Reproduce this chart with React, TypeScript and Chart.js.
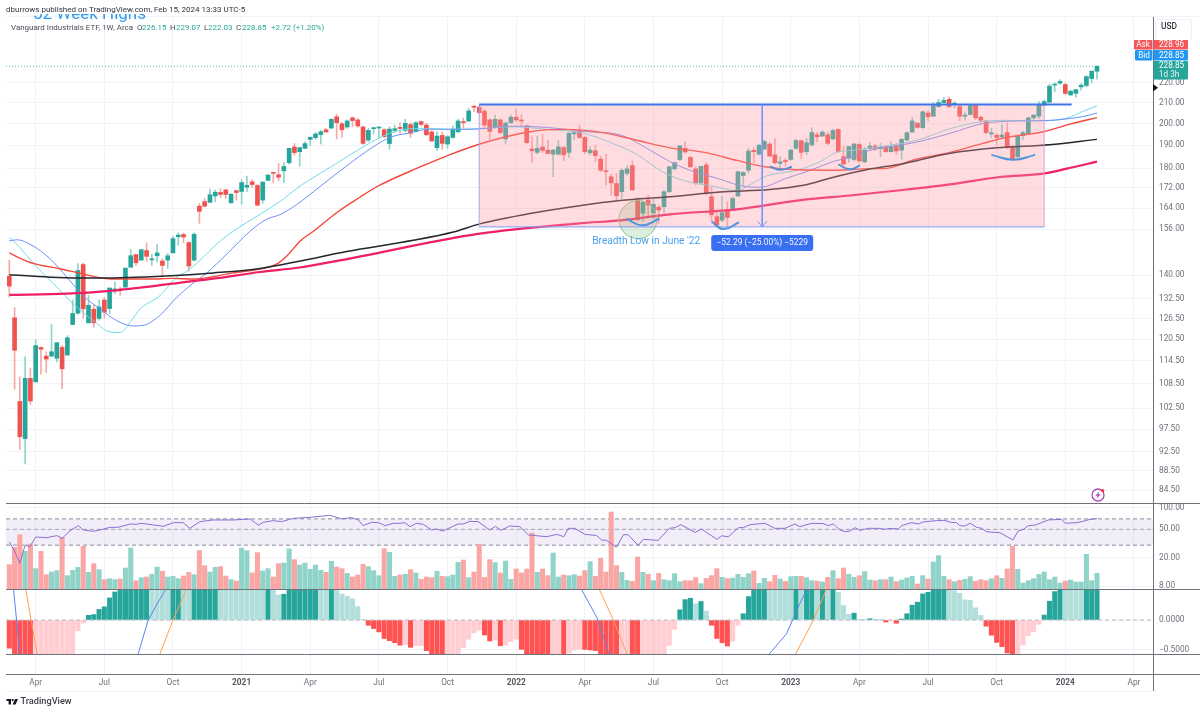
import React, { useEffect, useRef } from "react";
import { Chart, registerables } from "chart.js";
Chart.register(...registerables);

const tickIdx = [5, 18, 31, 44, 57, 70, 83, 96, 109, 122, 135, 148, 161, 174, 187, 200, 213];
const tickLabels = ["Apr", "Jul", "Oct", "2021", "Apr", "Jul", "Oct", "2022", "Apr", "Jul", "Oct", "2023", "Apr", "Jul", "Oct", "2024", "Apr"];
const priceTicks = [84.5, 88.5, 92.5, 97.5, 102.5, 108.5, 114.5, 120.5, 126.5, 132.5, 140, 156, 164, 172, 180, 190, 200, 210, 220];
const rsiTicks = [8, 20, 50, 100];
const macdTicks = [-0.5, 0];

const opens = [139.7,126.7,104.1,95.4,109.9,109.0,118.2,115.8,115.8,115.2,
118.2,116.1,124.7,128.1,143.6,125.2,129.3,126.5,132.1,129.5,
135.2,135.6,136.2,142.7,147.0,145.1,148.4,145.2,146.6,144.8,
145.1,147.6,153.3,154.1,151.2,145.1,164.7,166.5,166.2,168.7,
170.1,171.1,166.0,170.8,170.5,172.2,174.4,172.9,167.1,175.0,
178.3,177.3,179.0,182.4,189.3,187.2,188.7,192.7,193.5,194.9,
197.1,197.9,203.2,199.9,198.4,202.7,201.7,198.4,192.4,197.6,
197.9,197.1,190.8,196.8,198.2,196.8,199.5,196.3,200.9,199.3,
196.1,189.0,194.5,190.6,193.6,196.1,200.9,201.2,208.1,207.8,
205.9,201.7,198.2,201.7,192.9,200.4,203.0,201.7,199.0,188.4,
186.9,189.3,187.9,186.1,186.1,189.0,186.9,195.2,196.4,193.6,
186.7,187.6,184.0,178.9,176.5,173.7,170.4,177.9,181.2,167.1,
162.0,167.1,162.2,164.3,164.5,170.4,179.8,183.8,188.7,184.7,
179.8,174.0,181.5,168.4,160.7,159.4,163.4,163.2,168.7,177.0,
179.2,187.8,186.1,188.4,190.6,185.8,182.1,183.4,183.8,188.7,
192.1,187.2,190.2,194.8,194.2,194.8,192.9,197.3,185.0,184.3,
183.8,190.4,182.8,188.5,189.7,188.6,189.4,187.2,189.7,187.9,
192.4,196.1,200.2,198.1,205.0,203.5,208.1,210.1,211.7,209.3,
208.1,203.5,204.3,208.9,203.0,201.2,195.2,194.6,193.8,195.8,
189.0,185.0,194.4,195.4,202.7,203.5,208.9,210.3,218.9,219.9,
219.2,213.9,214.7,218.0,218.7,222.3,226.15];
const highs = [145.1,129.8,110.3,115.6,112.6,120.4,118.3,117.0,124.8,119.6,
118.8,121.5,132.1,143.9,144.1,133.6,130.5,132.1,132.9,135.9,
137.9,136.2,142.4,148.8,147.1,148.8,151.1,147.1,150.5,145.6,
147.4,153.5,154.7,154.5,151.5,154.7,165.8,167.7,171.5,171.1,
171.6,171.5,169.7,171.1,175.3,176.8,175.3,173.3,174.4,177.5,
178.3,182.1,182.5,188.7,190.9,189.1,191.6,193.9,195.8,196.8,
197.7,202.3,204.3,200.6,201.7,203.2,202.4,198.9,197.7,198.2,
198.5,197.6,198.5,199.3,200.4,202.0,200.4,200.9,201.2,200.1,
196.8,196.1,196.1,194.4,199.0,202.1,202.6,207.2,208.9,208.6,
206.8,202.4,204.0,202.1,200.9,204.0,207.0,204.3,199.3,193.9,
194.2,195.0,192.4,188.2,192.1,189.5,195.8,196.5,199.3,193.9,
189.5,190.2,185.3,186.1,177.6,177.9,179.9,181.3,183.2,168.1,
166.7,169.1,167.4,165.1,171.1,180.9,182.8,189.8,191.6,185.3,
180.7,180.9,182.4,172.3,162.6,168.7,166.4,168.4,178.9,178.6,
188.7,189.1,190.4,192.4,191.2,193.1,185.0,184.3,188.2,192.7,
192.4,193.1,198.0,195.9,196.8,196.1,197.4,197.4,189.5,189.5,
190.9,190.9,189.1,191.2,190.6,190.9,190.1,191.6,190.9,193.1,
196.1,203.0,200.5,206.1,206.1,210.1,211.7,212.7,213.0,210.6,
208.9,205.6,208.9,208.9,203.5,201.6,197.7,195.2,199.7,200.2,
190.1,194.7,196.4,203.0,204.3,210.6,211.4,219.4,220.0,221.8,
220.0,216.3,216.8,219.7,223.8,226.3,229.07];
const lows = [133.1,107.1,93.0,89.9,103.4,109.0,111.0,111.4,115.6,114.2,
107.3,116.0,124.7,127.8,126.6,125.2,124.0,126.0,126.6,128.0,
134.1,133.6,136.0,142.7,143.3,145.1,144.7,143.3,144.5,139.7,
142.2,147.6,150.3,151.1,141.4,144.8,158.2,164.5,166.2,166.4,
168.1,167.7,166.0,167.1,165.4,170.4,172.1,164.9,165.8,174.8,
174.0,174.8,174.1,181.8,185.7,180.9,188.4,189.9,192.7,190.6,
195.9,197.6,192.9,193.6,197.7,198.5,198.2,190.4,191.6,195.2,
193.2,193.6,188.2,195.8,195.5,196.1,193.6,196.1,198.9,194.5,
191.6,187.6,188.2,188.7,193.1,195.9,198.0,200.9,205.7,204.5,
198.2,192.4,197.7,195.2,190.6,200.1,200.9,198.9,190.9,182.4,
186.2,186.9,186.4,176.5,185.8,183.2,184.6,192.4,193.1,186.4,
185.8,182.9,178.7,173.0,169.1,167.1,167.7,177.2,170.8,159.1,
158.8,160.7,160.0,158.2,162.0,170.0,179.2,183.2,186.4,180.4,
173.0,173.7,169.1,159.1,157.1,158.8,156.9,163.0,168.4,173.0,
177.9,182.4,185.8,187.9,185.0,181.8,180.4,180.9,183.5,188.2,
184.3,185.8,189.5,191.6,193.9,190.1,192.4,186.8,181.4,182.7,
183.2,182.4,182.4,188.2,187.6,185.0,186.9,187.0,186.0,184.0,
192.1,195.7,197.9,197.7,201.3,203.2,207.8,209.8,207.8,207.3,
201.3,201.6,204.0,201.9,199.8,195.2,193.6,190.1,193.5,188.6,
183.5,184.7,192.4,195.2,201.9,202.3,208.6,210.1,215.5,219.4,
214.2,213.7,212.7,216.3,218.0,220.0,222.03];
const closes = [136.5,117.4,95.8,109.9,104.2,118.7,117.7,115.0,117.0,119.5,
112.4,120.9,128.0,141.6,129.4,130.5,125.2,130.0,128.4,135.9,
135.6,135.2,142.4,146.6,144.2,148.7,146.4,145.4,147.6,143.3,
146.6,152.6,153.9,153.2,143.1,154.2,162.7,164.7,169.2,170.2,
169.3,169.3,169.4,170.1,174.1,173.0,173.3,165.1,174.3,177.2,
177.9,176.3,180.8,188.7,186.8,189.0,190.8,193.6,195.2,196.2,
196.1,202.0,200.4,197.1,201.2,201.4,198.9,190.9,196.8,198.0,
198.2,193.9,197.4,197.6,197.7,200.1,195.5,200.4,199.6,194.8,
192.0,194.2,190.9,193.9,197.4,201.2,200.4,206.0,207.8,205.2,
199.3,196.4,202.0,195.8,200.2,203.0,201.7,201.2,191.2,187.6,
188.7,187.8,186.4,187.9,189.3,185.8,195.5,196.0,193.6,187.2,
187.9,185.5,179.2,178.6,174.0,168.8,179.2,179.8,171.1,159.6,
166.2,165.1,165.4,163.2,170.4,180.7,182.4,189.8,187.1,180.7,
174.0,180.9,169.7,161.4,157.5,162.2,160.4,167.7,178.6,178.3,
187.5,187.2,190.1,191.8,185.3,182.4,182.8,182.9,187.9,192.2,
186.9,191.2,195.8,193.9,196.0,190.9,196.8,187.2,181.8,189.5,
190.6,183.2,187.9,189.7,188.6,189.1,187.2,189.4,187.5,192.7,
195.7,201.2,198.2,205.6,203.2,208.6,210.1,211.2,208.1,209.8,
203.5,204.0,208.6,202.7,201.6,195.8,195.7,193.6,194.7,189.0,
183.8,194.4,195.8,202.7,204.0,209.3,210.6,218.4,219.4,220.8,
214.7,215.8,216.6,218.9,223.3,226.2,228.85];

const volumes = [73,125,163,113,135,61,113,43,51,55,155,40,56,65,128,50,76,58,28,31,
28,30,63,123,25,34,36,44,66,53,36,38,31,39,50,43,115,70,51,65,
67,39,28,24,123,115,48,109,54,61,36,76,78,120,88,72,78,59,72,56,
50,83,66,61,47,36,42,74,67,55,40,121,110,38,42,
44,58,48,29,36,34,53,38,37,42,80,87,34,51,134,35,88,79,48,84,
29,60,48,60,168,50,60,40,108,36,42,40,43,39,55,82,38,92,51,231,
70,50,26,23,96,50,44,25,47,28,25,46,22,25,25,34,16,32,40,61,
35,31,33,44,35,46,54,17,32,22,41,30,23,37,38,
38,34,25,24,21,35,55,31,63,44,35,40,52,27,25,28,28,36,22,27,
33,38,15,40,30,81,100,38,28,22,26,29,37,23,28,25,31,40,32,60,
128,59,18,25,31,44,51,28,36,18,24,27,21,21,104,25,47];

const macdHist = [-.47,-.56,-.62,-.68,-.72,-.7,-.68,-.66,-.64,-.62,-.6,-.58,-.56,-.18,-.05,
.077,.09,.176,.22,.368,.467,.52,.56,.6,.64,.68,.72,.7,.68,.66,.64,.66,.68,.66,.64,
.66,.68,.7,.72,.74,.73,.72,.71,.7,.69,.68,.67,.66,.65,.66,.6,.42,.43,.6,.62,.64,.66,.68,.7,
.68,.66,.68,.52,.434,.396,.352,.225,.005,-.088,-.143,-.198,-.308,-.346,-.379,
-.42,-.41,-.456,-.43,-.425,-.51,-.6,-.65,-.7,-.68,-.66,-.58,-.46,-.32,-.214,-.17,-.25,-.35,-.335,-.43,-.418,-.36,-.32,-.49,
-.6,-.64,-.68,-.72,-.76,-.74,-.72,-.78,-.55,-.5,-.485,-.49,-.5,-.51,-.56,-.6,-.65,-.7,-.68,-.62,-.66,-.7,-.68,-.64,-.62,-.6,-.57,-.423,-.154,
.17,.34,.363,.27,.308,.148,-.088,-.308,-.379,-.434,-.352,-.088,.104,.39,.55,.6,.65,.63,.61,.59,.57,.55,.58,
.56,.6,.62,.6,.62,.6,.62,.462,.242,.093,.115,.005,.004,.022,.003,.002,-.033,-.016,-.055,.016,.104,.247,.297,.434,.462,.52,.56,.6,.58,
.49,.445,.335,.33,.203,.077,-.104,-.253,-.374,-.445,-.55,-.6,-.58,-.418,-.264,-.198,-.071,.082,.313,.473,.6,.58,.56,.54,.52,.55,.58,.62];

const rsiIdx = [0,.9,2,3,3.9,5,7.1,9,10,11.5,13.1,14,15.9,17.2,19.1,20.6,22.9,24.1,25,27.3,29.2,31.1,32.9,34.2,36.1,38.6,42.4,45.6,47.2,48.1,50,51.6,53.8,57,60.7,63,64.8,66.1,67,68.6,69.9,71.2,72.7,
74,74.9,75.9,77.1,78.4,80,80.9,82.1,83.5,85,86,87.2,88.8,91,92.1,93.1,94.8,96.7,98.3,101.8,103.7,105,105.9,107.1,109,111.2,112.2,113.1,115,116.3,117.2,119.1,120.1,122.9,125,126.1,127.2,129.9,131.1,134,134.9,136.2,138.1,139,140.3,143.1,145,146.9,148.8,
149.7,152,154.2,155.1,156.1,157.3,158.3,159.2,160.2,161.1,162.7,164.6,165.9,166.8,168.4,169,170.9,172.2,173.1,175.6,177.2,178.2,179.4,180,181,182,183.2,184.2,185,187.6,190.1,191.1,192,193,194.3,195.2,196.8,199.3,200,202.2,203.4,204.7,206];
const rsiVals = [33.5,25.7,16.7,30.2,28.6,39,38.2,40.8,37.3,47.8,56.3,49,46.9,49,53.3,53.3,59.4,58.8,60.7,57.5,55.1,62,62,51.6,64,67.6,67.6,69.8,56.9,62.7,66.1,64,71.3,73.6,78.6,69.8,73,67.6,56.3,62.7,62,56.3,60.7,
60.7,62,54.5,60.7,58.8,49,50.5,47.4,52.8,59.4,59.4,64.7,64,49,55,48.4,55.7,54.5,41.7,39.4,42.5,39.4,51.6,51.6,42.5,41,35.4,35,28,42,42,29.8,36.2,35,51.6,52.8,58.1,45.3,50.5,36.2,40.5,39.4,52.8,52.8,58.1,60.7,51.6,51.6,59.4,
54.5,60.7,60.1,56.3,59.4,49,46.3,47.4,52.8,48.4,51.6,51.6,50,51.6,50.5,56.3,62,59.4,63.4,66.1,66.8,62.7,62,56.3,55.7,60.7,53.3,51.6,46.3,44.8,35.4,47.8,49.5,56.3,57.5,60.7,67.6,69,60.7,62,64.7,69,70.4];

const cyanIdx = [0,.8,3.3,5.8,9,12.1,15.9,19,21,22.9,24.8,28.5,31.7,33.6,36.1,39.3,42.4,47.5,51.9,54.4,58.8,62.6,67,72.1,76.5,79,84.1,89.1,95.4,101.8,108.7,114.4,118.8,123.9,128.3,133.3,137.8,140.9,143.4,149.1,153.6,156.7,159.8,165.5,171.9,178.2,184.4,188.9,194.6,200.3,203.5,206];
const cyanVals = [152.9,151.8,146.7,141.7,136.2,130.9,125.9,122.6,122.4,125.4,129.4,133.4,139.4,141.3,145,150.7,155.3,161.6,167.5,171.7,177.8,183,189.3,195.5,197.6,197.6,197.3,197.6,198.5,197.3,195.5,190.8,186.1,178.3,174.6,172.6,170.9,174,176.8,179.2,182.9,187,187.8,189.6,192.3,197.6,201,201.5,201.2,202.6,206,208.5];
const blueIdx = [0,1.4,4.5,7.7,10.9,14,17.2,20.3,23.5,25.4,28.5,31.7,34.2,37.4,41.2,45.6,48.7,51.3,54.4,58.8,63.9,68.9,72.1,75.9,79.7,84.7,89.1,95.4,101.8,109.4,115.7,121.4,125.1,128.9,134,139,142.2,147.2,151.7,156,159.8,163,165.5,171.9,178.2,184.4,190.8,197,203.3,206];
const blueVals = [151.8,152.2,150,145.6,139.4,133.4,129.4,125.9,124.3,124.5,127.4,132.9,136.6,140.8,147.2,155.3,159.7,161.5,165.3,172.4,181.1,189.3,193.6,195.7,197.4,197.3,197.5,198.8,198.2,196.2,194.7,187.8,182.9,179.2,175.9,172.6,172.2,175.9,179.2,182.9,185.1,187.8,188.9,191.5,195.5,200,201.2,201.5,203.3,205];
const redIdx = [0,1.4,4.5,9.6,12.8,16.6,19.1,26.6,31,34.8,42.4,48.8,50.7,52.6,55.1,57.6,62,66.4,69.6,77.8,82.8,89.1,98.6,104.9,112.4,118.8,125.1,131.4,137.8,142.8,149.1,156.7,163,165.5,171.9,178.2,184.4,188.9,195.8,200.9,206];
const redVals = [147.6,146.3,144,142.2,140.9,139.4,138.8,138.8,139,138.8,140.8,142.6,143.8,146.6,151.8,155.3,162.2,168.2,172.4,180.6,185.3,190.6,196.2,197.3,195.8,192.3,188.9,187,183.4,180.8,179.4,179.2,179.9,179.9,184,186.9,190.9,193.6,196.2,199.7,202.8];
const blackIdx = [0,7.7,17.2,29.8,38.6,47.5,55.1,63.9,76.5,84.1,89.1,98.6,108,115.7,125.1,134.6,144,150.4,155.4,163,168.7,178.2,187,197,206];
const blackVals = [140.2,139.4,139.1,139.8,140.8,142.3,144.8,148.1,152,155,158,161.9,164.9,166.9,168.4,170.3,171.3,173,175.9,179.7,181.8,186.5,188.9,190.3,192.7];
const crimsonIdx = [0,10.9,19,31,38.6,47.5,55,62.6,89.1,108,115.7,125.1,137.8,150.3,159.2,168.7,178.2,187.6,195.8,200.3,206];
const crimsonVals = [133.7,134.1,135,137.3,138.9,141.1,142.6,145,154.4,158.2,159.3,161.6,163.5,167.2,168.9,171,173.4,176.4,177.8,179.9,182.9];

const macdIdx = [0,.8,2,4,20,24.4,26.3,28.2,29.7,34,105,108.3,110.3,111.4,113.6,118,140,143.9,147.2,149.7,151.1,156,206];
const macdVals = [1.2,.52,-.57,-1.5,-1.5,-.57,0,.3,.52,1.5,1.5,.52,.2,.02,-.57,-1.5,-1.5,-.57,-.23,.27,.52,1.5,1.5];
const signalIdx = [0,3.1,4.1,5.3,10,24,28.5,31.1,33.6,38,105,111.7,114.4,117,122,140,148.9,152.3,154.8,160,206];
const signalVals = [1.5,.52,.02,-.57,-1.5,-1.5,-.57,.02,.52,1.5,1.5,.52,0,-.57,-1.5,-1.5,-.57,0,.52,1.5,1.5];

const rangeStart = 89, rangeEnd = 196, rangeHigh = 209.16, rangeLow = 156.87, resistanceEnd = 201.2;
const arrowAt = 142.6;
const smiles = [
  [[116.9, 119.8, 123.1], [159.9, 157.5, 159.9]],
  [[133, 135.3, 138.2], [158.8, 156.1, 158.6]],
  [[144.1, 146.1, 148.2], [180.8, 179.4, 180.7]],
  [[157, 159.2, 161.1], [181.7, 179.6, 181.3]],
  [[186, 190.2, 194.3], [185.8, 183.7, 185.8]],
];

const BANDS = { yPrice: [17, 503], yRsi: [503, 589], yVol: [503, 589], yMacd: [589, 654] };
const FONT = "Roboto, sans-serif";
const TEAL = "#26a69a", RED = "#ef5350";
const xs = opens.map((_, i) => i);
const up = (i) => closes[i] >= opens[i];
const histColor = (i) => {
  const v = macdHist[i], p = i ? macdHist[i - 1] : 0;
  return v >= 0 ? (v > p ? "#26a69a" : "#b2dfdb") : v < p ? "#ff5252" : "#ffcdd2";
};

const line = (x, y, axis, color, width, order, extra = {}) => ({
  type: "line", data: x.map((v, i) => ({ x: v, y: y[i] })), xAxisID: "x", yAxisID: axis,
  borderColor: color, borderWidth: width, pointRadius: 0, fill: false, tension: 0, order, clip: 0, ...extra,
});
const bar = (data, axis, colors, thick, order, extra = {}) => ({
  type: "bar", data, xAxisID: "x", yAxisID: axis, backgroundColor: colors, borderWidth: 0, grouped: false,
  maxBarThickness: thick, barPercentage: 1, categoryPercentage: 1, order, clip: 0, ...extra,
});
const X0 = -0.625, X1 = 216.61;
const smooth = { cubicInterpolationMode: "monotone" };

const datasets = [
  line([X0, X1], [70, 70], "yRsi", "#8a8d96", 1, 70, { borderDash: [4, 3], fill: "+1", backgroundColor: "rgba(126,87,194,0.1)" }),
  line([X0, X1], [30, 30], "yRsi", "#8a8d96", 1, 70, { borderDash: [4, 3] }),
  line([X0, X1], [50, 50], "yRsi", "rgba(138,141,150,0.7)", 1, 69, { borderDash: [4, 3] }),
  bar(xs.map((x) => ({ x, y: volumes[x] })), "yVol", xs.map((i) => (up(i) ? "#8fd3c9" : "#f9a6a4")), 4.4, 60),
  line(rsiIdx, rsiVals, "yRsi", "#8e6fd0", 1, 58),
  bar(xs.map((x) => ({ x, y: macdHist[x] })), "yMacd", xs.map(histColor), 4.4, 55),
  line([X0, X1], [0, 0], "yMacd", "#b8bac0", 1, 54, { borderDash: [4, 3] }),
  line(macdIdx, macdVals, "yMacd", "#5b84f0", 1, 53),
  line(signalIdx, signalVals, "yMacd", "#ff9f50", 1, 52),
  bar(xs.map((x) => ({ x, y: [lows[x], highs[x]] })), "yPrice", xs.map((i) => (up(i) ? "#8fd3c9" : "#f7a9a7")), 1, 40),
  bar(xs.map((x) => ({ x, y: [Math.min(opens[x], closes[x]), Math.max(opens[x], closes[x])] })), "yPrice", xs.map((i) => (up(i) ? TEAL : RED)), 4, 39, { minBarLength: 1 }),
  line(cyanIdx, cyanVals, "yPrice", "#6fdde8", 1, 30, smooth),
  line(blueIdx, blueVals, "yPrice", "#6f8ffb", 1, 29, smooth),
  line(redIdx, redVals, "yPrice", "#f4473a", 1.4, 28, smooth),
  line(blackIdx, blackVals, "yPrice", "#24262c", 1.5, 27, smooth),
  line(crimsonIdx, crimsonVals, "yPrice", "#ef1f63", 2.2, 26, smooth),
  line([X0, 206], [228.85, 228.85], "yPrice", "rgba(38,166,154,0.75)", 1, 25, { borderDash: [1, 2] }),
  line([119.07], [159.6], "yPrice", "#8dc68d", 1, 22, { showLine: false, pointRadius: 19, pointBackgroundColor: "rgba(76,175,80,0.2)", pointBorderColor: "#8dc68d", pointBorderWidth: 1 }),
  line([rangeStart, rangeEnd], [rangeHigh, rangeHigh], "yPrice", "rgba(0,0,0,0)", 0, 12, { fill: "+1", backgroundColor: "rgba(255,155,163,0.35)" }),
  line([rangeStart, rangeEnd], [rangeLow, rangeLow], "yPrice", "#7d9cff", 1, 11),
  line([rangeStart, rangeStart], [rangeLow, rangeHigh], "yPrice", "#b59fde", 1, 10),
  line([rangeEnd, rangeEnd], [rangeLow, rangeHigh], "yPrice", "#d8a0dc", 1, 10),
  line([rangeStart, resistanceEnd], [rangeHigh, rangeHigh], "yPrice", "#3f74e8", 2, 9),
  line([arrowAt, arrowAt], [rangeHigh, rangeLow], "yPrice", "#6f96f5", 1, 8),
  line([arrowAt - 0.9, arrowAt, arrowAt + 0.9], [159.0, rangeLow, 159.0], "yPrice", "#6f96f5", 1, 8),
  ...smiles.map(([x, y]) => line(x, y, "yPrice", "#4f94dc", 2, 7, { tension: 0.5 })),
];

const txt = (ctx, s, x, y, font, color, align = "left") => {
  ctx.font = font; ctx.fillStyle = color; ctx.textAlign = align; ctx.textBaseline = "middle"; ctx.fillText(s, x, y);
};
const box = (ctx, x, y, w, h, color, r = 1) => {
  ctx.fillStyle = color; ctx.beginPath(); ctx.roundRect(x, y, w, h, r); ctx.fill();
};

const panes = {
  id: "panes",
  beforeDraw(c) {
    const ctx = c.ctx;
    ctx.save(); ctx.fillStyle = "#fff"; ctx.fillRect(0, 0, c.width, c.height); ctx.restore();
  },
  afterLayout(c) {
    Object.keys(BANDS).forEach((id) => {
      const s = c.scales[id];
      s.top = BANDS[id][0]; s.bottom = BANDS[id][1]; s.height = s.bottom - s.top; s.configure();
    });
  },
  afterDraw(c) {
    const ctx = c.ctx, xS = c.scales.x, yS = c.scales.yPrice;
    ctx.save();
    ctx.strokeStyle = "#6f7278"; ctx.lineWidth = 1;
    [503.5, 589.5, 654.5, 674.5].forEach((y) => { ctx.beginPath(); ctx.moveTo(6, y); ctx.lineTo(1200, y); ctx.stroke(); });
    ctx.beginPath(); ctx.moveTo(1153.5, 17); ctx.lineTo(1153.5, 691); ctx.stroke();
    ctx.strokeStyle = "#f0f3fa"; ctx.beginPath(); ctx.moveTo(6, 691.5); ctx.lineTo(1153, 691.5); ctx.stroke();
    ctx.beginPath(); ctx.moveTo(6, 16.5); ctx.lineTo(1200, 16.5); ctx.stroke();
    txt(ctx, "dburrows published on TradingView.com, Feb 15, 2024 13:33 UTC-5", 6, 10, `8px ${FONT}`, "#30333c");
    ctx.save(); ctx.beginPath(); ctx.rect(0, 14, 400, 12); ctx.clip();
    txt(ctx, "52 Week Highs", 33, 14.5, `17px ${FONT}`, "#2f9bf0");
    ctx.restore();
    const leg = `7.95px ${FONT}`;
    txt(ctx, "Vanguard Industrials ETF, 1W, Arca", 11, 28, leg, "#4a4d58");
    [["O", 137, "226.15", 142], ["H", 170, "229.07", 176], ["L", 204, "222.03", 208], ["C", 236, "228.85", 242]].forEach(([a, ax, b, bx]) => {
      txt(ctx, a, ax, 28, leg, "#4a4d58"); txt(ctx, b, bx, 28, leg, TEAL);
    });
    txt(ctx, "+2.72 (+1.20%)", 271, 28, leg, TEAL);
    ctx.strokeStyle = "#eceef3"; ctx.beginPath(); ctx.roundRect(1155.5, 19.5, 36, 21, 3); ctx.fillStyle = "#fff"; ctx.fill(); ctx.stroke();
    txt(ctx, "USD", 1161, 27, `500 8.4px ${FONT}`, "#333640");
    const lab = `8.2px ${FONT}`;
    box(ctx, 1134, 40, 18.5, 9.5, "#f4565a"); txt(ctx, "Ask", 1143, 45, lab, "#fff", "center");
    box(ctx, 1153.5, 40, 34.5, 9.5, "#f4565a"); txt(ctx, "228.96", 1159, 45, lab, "#fff");
    box(ctx, 1135, 50, 17.5, 10.5, "#2196f3"); txt(ctx, "Bid", 1144, 55.5, lab, "#fff", "center");
    box(ctx, 1153.5, 50, 34.5, 10.5, "#2196f3"); txt(ctx, "228.85", 1159, 55.5, lab, "#fff");
    box(ctx, 1153.5, 61, 34.5, 18.5, "#26a69a"); txt(ctx, "228.85", 1159, 66, lab, "#fff"); txt(ctx, "1d 3h", 1159, 74.5, lab, "#e6f5f3");
    ctx.fillStyle = "#111"; ctx.beginPath(); ctx.moveTo(1153, 84); ctx.lineTo(1158, 87.7); ctx.lineTo(1153, 91.5); ctx.closePath(); ctx.fill();
    txt(ctx, "Breadth Low in June '22", xS.getPixelForValue(110.4), yS.getPixelForValue(151.5), `10.2px ${FONT}`, "#4a9fee");
    const mx = xS.getPixelForValue(arrowAt), my = yS.getPixelForValue(151.1);
    box(ctx, mx - 51, my - 8, 102, 16, "#3a6ff2", 3);
    txt(ctx, "\u221252.29 (\u221225.00%) \u22125229", mx, my, `8.4px ${FONT}`, "#f2f5ff", "center");
    const bx = xS.getPixelForValue(206.2), by = 495;
    ctx.strokeStyle = "#ab47bc"; ctx.lineWidth = 1.3; ctx.beginPath(); ctx.arc(bx, by, 6, 0, Math.PI * 2); ctx.stroke();
    ctx.fillStyle = "#ab47bc"; ctx.beginPath();
    ctx.moveTo(bx + 1.6, by - 4); ctx.lineTo(bx - 2.6, by + 0.8); ctx.lineTo(bx - 0.2, by + 0.8); ctx.lineTo(bx - 1.6, by + 4);
    ctx.lineTo(bx + 2.6, by - 0.8); ctx.lineTo(bx + 0.2, by - 0.8); ctx.closePath(); ctx.fill();
    ctx.fillStyle = "#f23645"; ctx.beginPath(); ctx.arc(bx + 4.6, by - 4.4, 1.7, 0, Math.PI * 2); ctx.fill();
    ctx.fillStyle = "#131722"; ctx.beginPath();
    ctx.moveTo(6.5, 699); ctx.lineTo(11, 699); ctx.lineTo(11, 704.5); ctx.lineTo(8.6, 704.5); ctx.lineTo(8.6, 701); ctx.lineTo(6.5, 701); ctx.closePath(); ctx.fill();
    ctx.beginPath(); ctx.arc(12.6, 700.1, 1.1, 0, Math.PI * 2); ctx.fill();
    ctx.beginPath(); ctx.moveTo(15, 699); ctx.lineTo(18, 699); ctx.lineTo(15.6, 704.5); ctx.lineTo(12.6, 704.5); ctx.closePath(); ctx.fill();
    txt(ctx, "TradingView", 20.5, 702, `500 9.2px ${FONT}`, "#3b3e46");
    ctx.restore();
  },
};

const yCommon = (ticks, fmt) => ({
  position: "right", stack: "right",
  afterFit: (s) => { s.width = 47; },
  afterBuildTicks: (s) => { s.ticks = ticks.map((value) => ({ value })); },
  border: { display: false },
  grid: { color: "#f0f3fa", drawTicks: false },
  ticks: { autoSkip: false, padding: 6, color: "#6f727c", font: { size: 8.3, family: FONT }, callback: fmt },
});

export default function App() {
  const ref = useRef(null);
  useEffect(() => {
    document.body.style.margin = "0";
    const chart = new Chart(ref.current, {
      type: "bar",
      data: { datasets },
      plugins: [panes],
      options: {
        animation: false, responsive: false, events: [],
        layout: { autoPadding: false, padding: { left: 6, top: 17, right: 0, bottom: 22 } },
        plugins: { legend: { display: false }, tooltip: { enabled: false }, filler: { drawTime: "beforeDatasetDraw" } },
        scales: {
          x: {
            type: "linear", min: X0, max: X1, offset: false,
            afterFit: (s) => { s.height = 17; },
            afterBuildTicks: (s) => { s.ticks = tickIdx.map((value) => ({ value })); },
            border: { display: false },
            grid: { color: "#f0f3fa", drawTicks: false, offset: false },
            ticks: {
              autoSkip: false, maxRotation: 0, padding: 4, color: (c) => (tickLabels[c.index]?.length === 4 ? "#55585f" : "#6f727c"),
              font: (c) => ({ size: 8.3, family: FONT, weight: tickLabels[c.index]?.length === 4 ? "700" : "400" }),
              callback: (_, i) => tickLabels[i],
            },
          },
          yPrice: { type: "logarithmic", min: 82.0, max: 256.9, ...yCommon(priceTicks, (v) => Number(v).toFixed(2)) },
          yRsi: { type: "logarithmic", min: 7.3, max: 116.8, ...yCommon(rsiTicks, (v) => Number(v).toFixed(2)) },
          yVol: { type: "linear", min: 0, max: 258, display: false, stack: "right", position: "right" },
          yMacd: { type: "linear", min: -0.5667, max: 0.5167, ...yCommon(macdTicks, (v) => (v < 0 ? "\u22120.5000" : "0.0000")) },
        },
      },
    });
    return () => chart.destroy();
  }, []);
  return <canvas ref={ref} width={1200} height={713} style={{ display: "block", width: 1200, height: 713 }} />;
}
